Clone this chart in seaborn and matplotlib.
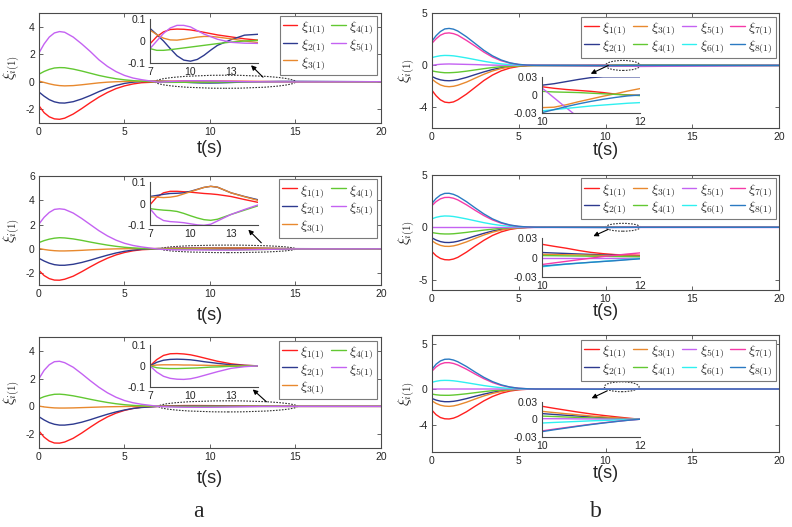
import numpy as np
import pandas as pd
import seaborn as sns
import matplotlib.pyplot as plt
from matplotlib.patches import Ellipse

# time grids (s)
T_A = [0, 0.3, 0.6, 0.9, 1.2, 1.5, 2, 2.5, 3, 3.5, 4, 4.5, 5, 5.5, 6]
T_A_ZOOM = [7, 7.5, 8, 8.5, 9, 9.5, 10, 10.5, 11, 11.5, 12, 13, 14, 15]
T_B = [0, 0.25, 0.5, 0.75, 1, 1.25, 1.5, 2, 2.5, 3, 3.5, 4, 4.5, 5, 5.5, 6]
T_B_ZOOM = [10, 10.25, 10.5, 10.75, 11, 11.25, 11.5, 11.75, 12]
T_END = 20

NAMES_A = [r'$\xi_{1(1)}$', r'$\xi_{2(1)}$', r'$\xi_{3(1)}$', r'$\xi_{4(1)}$', r'$\xi_{5(1)}$']
NAMES_B = NAMES_A + [r'$\xi_{6(1)}$', r'$\xi_{7(1)}$', r'$\xi_{8(1)}$']
COLORS = ['#ff1f1f', '#2e3a8f', '#e8892e', '#62c832', '#c462f2', '#2ff0f0', '#f53aa8', '#2a7ac2']

# ---- column a, top ----
a1_main = [
    [-1.75, -2.25, -2.55, -2.7, -2.73, -2.65, -2.35, -1.95, -1.52, -1.12, -0.78, -0.5, -0.3, -0.16, -0.07],
    [-0.75, -1.05, -1.3, -1.46, -1.54, -1.55, -1.45, -1.25, -1.0, -0.72, -0.47, -0.27, -0.12, -0.03, 0.02],
    [0.05, -0.05, -0.15, -0.23, -0.28, -0.3, -0.28, -0.22, -0.15, -0.08, -0.03, 0.0, 0.02, 0.03, 0.03],
    [0.55, 0.75, 0.9, 1.0, 1.03, 1.02, 0.92, 0.78, 0.62, 0.46, 0.33, 0.22, 0.14, 0.08, 0.04],
    [2.1, 2.75, 3.25, 3.55, 3.65, 3.6, 3.25, 2.75, 2.2, 1.6, 1.12, 0.74, 0.46, 0.27, 0.15],
]
a1_zoom = [
    [-0.013, 0.02, 0.042, 0.053, 0.055, 0.054, 0.051, 0.046, 0.04, 0.034, 0.028, 0.019, 0.01, 0.004],
    [0.058, 0.03, 0.0, -0.035, -0.068, -0.088, -0.093, -0.085, -0.066, -0.042, -0.02, 0.006, 0.027, 0.031],
    [0.05, 0.03, 0.013, 0.005, 0.004, 0.008, 0.013, 0.018, 0.021, 0.021, 0.018, 0.01, 0.0, -0.007],
    [-0.035, -0.043, -0.043, -0.04, -0.036, -0.032, -0.028, -0.024, -0.02, -0.016, -0.012, -0.005, 0.0, 0.003],
    [-0.035, 0.0, 0.035, 0.06, 0.072, 0.072, 0.065, 0.048, 0.032, 0.02, 0.008, -0.006, -0.01, -0.011],
]

# ---- column a, middle ----
a2_main = [
    [-1.78, -2.2, -2.45, -2.57, -2.58, -2.5, -2.25, -1.88, -1.48, -1.1, -0.77, -0.5, -0.3, -0.16, -0.07],
    [-0.78, -1.0, -1.18, -1.3, -1.35, -1.35, -1.27, -1.12, -0.93, -0.72, -0.52, -0.34, -0.2, -0.1, -0.04],
    [0.03, -0.05, -0.11, -0.15, -0.17, -0.17, -0.15, -0.12, -0.08, -0.05, -0.02, 0.0, 0.01, 0.02, 0.02],
    [0.52, 0.68, 0.8, 0.88, 0.92, 0.9, 0.82, 0.7, 0.56, 0.43, 0.31, 0.21, 0.13, 0.08, 0.04],
    [2.05, 2.6, 3.0, 3.25, 3.3, 3.25, 2.95, 2.5, 2.0, 1.5, 1.07, 0.72, 0.46, 0.28, 0.16],
]
a2_zoom = [
    [-0.005, 0.03, 0.05, 0.057, 0.057, 0.055, 0.053, 0.05, 0.047, 0.045, 0.042, 0.033, 0.019, 0.006],
    [0.033, 0.038, 0.043, 0.047, 0.048, 0.05, 0.057, 0.066, 0.075, 0.08, 0.076, 0.05, 0.033, 0.018],
    [0.03, 0.03, 0.028, 0.03, 0.035, 0.045, 0.055, 0.065, 0.075, 0.08, 0.076, 0.05, 0.032, 0.015],
    [-0.023, -0.027, -0.03, -0.032, -0.036, -0.045, -0.056, -0.066, -0.074, -0.077, -0.072, -0.05, -0.03, -0.01],
    [-0.023, -0.06, -0.078, -0.083, -0.085, -0.088, -0.093, -0.098, -0.1, -0.095, -0.08, -0.05, -0.027, -0.006],
]

# ---- column a, bottom ----
a3_main = [
    [-1.78, -2.22, -2.5, -2.64, -2.65, -2.57, -2.3, -1.92, -1.5, -1.1, -0.76, -0.49, -0.29, -0.15, -0.06],
    [-0.75, -0.98, -1.17, -1.29, -1.35, -1.35, -1.28, -1.14, -0.96, -0.76, -0.57, -0.4, -0.26, -0.15, -0.08],
    [0.02, -0.04, -0.08, -0.11, -0.12, -0.12, -0.11, -0.09, -0.07, -0.05, -0.03, -0.02, -0.01, 0.0, 0.0],
    [0.55, 0.7, 0.8, 0.87, 0.88, 0.85, 0.76, 0.64, 0.51, 0.39, 0.28, 0.19, 0.12, 0.07, 0.04],
    [2.0, 2.6, 3.0, 3.22, 3.25, 3.15, 2.82, 2.35, 1.85, 1.38, 0.98, 0.66, 0.42, 0.26, 0.15],
]
a3_zoom = [
    [0.0, 0.03, 0.05, 0.058, 0.059, 0.057, 0.053, 0.046, 0.038, 0.03, 0.022, 0.01, 0.003, 0.0],
    [0.0, 0.017, 0.027, 0.031, 0.032, 0.031, 0.029, 0.025, 0.02, 0.016, 0.012, 0.005, 0.002, 0.0],
    [0.0, 0.004, 0.005, 0.005, 0.005, 0.004, 0.004, 0.003, 0.003, 0.002, 0.002, 0.001, 0.0, 0.0],
    [0.0, -0.009, -0.012, -0.013, -0.013, -0.012, -0.011, -0.01, -0.008, -0.006, -0.005, -0.002, -0.001, 0.0],
    [0.0, -0.03, -0.05, -0.06, -0.064, -0.065, -0.062, -0.055, -0.046, -0.037, -0.028, -0.012, -0.004, 0.0],
]

# ---- column b, top ----
b1_main = [
    [-2.35, -2.9, -3.3, -3.52, -3.57, -3.5, -3.3, -2.75, -2.1, -1.45, -0.92, -0.52, -0.25, -0.1, -0.02, 0.01],
    [-1.05, -1.25, -1.38, -1.45, -1.47, -1.44, -1.37, -1.15, -0.88, -0.62, -0.39, -0.22, -0.1, -0.04, 0.0, 0.01],
    [-1.3, -1.62, -1.87, -2.0, -2.04, -2.0, -1.9, -1.6, -1.22, -0.85, -0.53, -0.3, -0.14, -0.06, -0.02, -0.02],
    [-0.52, -0.6, -0.66, -0.7, -0.7, -0.68, -0.65, -0.55, -0.43, -0.31, -0.2, -0.12, -0.06, -0.03, -0.01, 0.0],
    [0.0, 0.07, 0.11, 0.13, 0.14, 0.13, 0.12, 0.1, 0.08, 0.05, 0.03, 0.02, 0.01, 0.01, 0.01, 0.01],
    [0.75, 0.85, 0.93, 0.96, 0.95, 0.92, 0.86, 0.72, 0.56, 0.4, 0.26, 0.15, 0.08, 0.03, 0.01, 0.0],
    [2.1, 2.55, 2.9, 3.08, 3.12, 3.05, 2.9, 2.4, 1.85, 1.28, 0.8, 0.45, 0.22, 0.09, 0.02, 0.0],
    [2.3, 2.85, 3.25, 3.5, 3.55, 3.48, 3.3, 2.75, 2.1, 1.45, 0.92, 0.52, 0.25, 0.1, 0.03, 0.0],
]
b1_zoom = [
    [0.0136, 0.011, 0.009, 0.0075, 0.006, 0.004, 0.0015, 0.0, -0.0005],
    [0.016, 0.0185, 0.022, 0.0255, 0.0285, 0.0298, 0.0298, 0.0298, 0.0298],
    [-0.0207, -0.02, -0.016, -0.011, -0.0065, -0.002, 0.002, 0.0065, 0.0105],
    [0.006, 0.005, 0.0045, 0.004, 0.003, 0.002, 0.001, 0.0, -0.001],
    [0.012, -0.0045, -0.021, -0.037, -0.05, -0.065, -0.08, -0.09, -0.1],
    [-0.026, -0.024, -0.022, -0.02, -0.018, -0.0165, -0.015, -0.0135, -0.0125],
    [-0.05, -0.048, -0.046, -0.044, -0.042, -0.04, -0.038, -0.036, -0.034],
    [-0.029, -0.024, -0.019, -0.0145, -0.0105, -0.007, -0.004, -0.0015, 0.0],
]

# ---- column b, middle ----
b2_main = [
    [-2.3, -2.72, -2.98, -3.1, -3.12, -3.04, -2.88, -2.38, -1.8, -1.25, -0.78, -0.44, -0.21, -0.08, -0.02, 0.0],
    [-1.0, -1.22, -1.37, -1.45, -1.46, -1.42, -1.34, -1.1, -0.83, -0.58, -0.36, -0.2, -0.1, -0.04, -0.01, 0.0],
    [-1.28, -1.55, -1.73, -1.82, -1.83, -1.78, -1.68, -1.4, -1.06, -0.74, -0.47, -0.27, -0.13, -0.05, -0.01, 0.0],
    [-0.5, -0.57, -0.62, -0.64, -0.64, -0.62, -0.58, -0.49, -0.38, -0.27, -0.18, -0.1, -0.05, -0.02, -0.01, 0.0],
    [0.0, 0.0, 0.0, 0.0, 0.0, 0.0, 0.0, 0.0, 0.0, 0.0, 0.0, 0.0, 0.0, 0.0, 0.0, 0.0],
    [0.8, 0.95, 1.04, 1.08, 1.07, 1.03, 0.96, 0.8, 0.62, 0.44, 0.29, 0.17, 0.09, 0.04, 0.01, 0.0],
    [2.05, 2.45, 2.72, 2.85, 2.86, 2.78, 2.62, 2.15, 1.62, 1.12, 0.7, 0.39, 0.19, 0.08, 0.02, 0.0],
    [2.25, 2.75, 3.08, 3.24, 3.25, 3.15, 2.97, 2.45, 1.85, 1.28, 0.8, 0.45, 0.22, 0.09, 0.03, 0.0],
]
b2_zoom = [
    [0.0207, 0.0175, 0.0145, 0.011, 0.008, 0.006, 0.0045, 0.004, 0.0035],
    [0.0078, 0.007, 0.0063, 0.0055, 0.0048, 0.0041, 0.0034, 0.0027, 0.002],
    [0.005, 0.0046, 0.0043, 0.004, 0.0036, 0.0032, 0.0028, 0.0024, 0.002],
    [0.003, 0.0028, 0.0025, 0.0023, 0.002, 0.0018, 0.0015, 0.0013, 0.001],
    [0.0, 0.0, 0.0, 0.0, 0.0, 0.0, 0.0, 0.0, 0.0],
    [-0.0145, -0.0125, -0.0105, -0.009, -0.0075, -0.006, -0.0045, -0.003, -0.0015],
    [-0.011, -0.0085, -0.006, -0.0035, -0.001, 0.0015, 0.0035, 0.0055, 0.0072],
    [-0.0135, -0.0118, -0.0102, -0.0088, -0.0075, -0.0062, -0.005, -0.0035, -0.002],
]

# ---- column b, bottom ----
b3_main = [
    [-2.33, -2.85, -3.17, -3.31, -3.33, -3.24, -3.05, -2.53, -1.91, -1.32, -0.83, -0.47, -0.23, -0.09, -0.03, 0.0],
    [-1.04, -1.23, -1.35, -1.41, -1.41, -1.37, -1.29, -1.07, -0.81, -0.57, -0.36, -0.2, -0.1, -0.04, -0.01, 0.0],
    [-1.3, -1.6, -1.8, -1.9, -1.93, -1.88, -1.77, -1.47, -1.11, -0.77, -0.49, -0.28, -0.13, -0.05, -0.01, 0.0],
    [-0.56, -0.64, -0.69, -0.7, -0.7, -0.67, -0.63, -0.53, -0.41, -0.29, -0.19, -0.11, -0.06, -0.02, -0.01, 0.0],
    [0.0, 0.0, 0.0, 0.0, 0.0, 0.0, 0.0, 0.0, 0.0, 0.0, 0.0, 0.0, 0.0, 0.0, 0.0, 0.0],
    [0.74, 0.86, 0.94, 0.96, 0.95, 0.91, 0.85, 0.7, 0.54, 0.38, 0.25, 0.14, 0.07, 0.03, 0.01, 0.0],
    [1.95, 2.45, 2.77, 2.92, 2.93, 2.84, 2.67, 2.2, 1.66, 1.15, 0.72, 0.4, 0.2, 0.08, 0.02, 0.0],
    [2.15, 2.75, 3.12, 3.3, 3.32, 3.22, 3.03, 2.5, 1.88, 1.3, 0.82, 0.46, 0.22, 0.09, 0.03, 0.0],
]
b3_zoom = [
    [0.022, 0.0185, 0.0152, 0.012, 0.009, 0.0065, 0.0042, 0.002, 0.0],
    [0.0096, 0.0081, 0.0067, 0.0053, 0.004, 0.0029, 0.0018, 0.0008, 0.0],
    [0.0134, 0.0113, 0.0093, 0.0074, 0.0056, 0.004, 0.0025, 0.0011, 0.0],
    [0.0054, 0.0046, 0.0038, 0.003, 0.0023, 0.0016, 0.001, 0.0005, 0.0],
    [0.001, 0.0009, 0.0008, 0.0006, 0.0005, 0.0004, 0.0002, 0.0001, 0.0],
    [-0.0064, -0.0054, -0.0045, -0.0036, -0.0027, -0.002, -0.0013, -0.0006, 0.0],
    [-0.0198, -0.0168, -0.014, -0.0112, -0.0085, -0.006, -0.0038, -0.0017, 0.0],
    [-0.021, -0.0178, -0.0148, -0.0118, -0.009, -0.0064, -0.004, -0.0018, 0.0],
]

sns.set_theme(style='white')
plt.rcParams.update({
    'font.family': ['Liberation Sans', 'DejaVu Sans'],
    'mathtext.fontset': 'cm',
    'axes.unicode_minus': False,
    'axes.edgecolor': '#4a4a4a',
    'axes.linewidth': 0.8,
    'xtick.direction': 'in',
    'ytick.direction': 'in',
    'xtick.color': '#4a4a4a',
    'ytick.color': '#4a4a4a',
    'xtick.labelcolor': '#262626',
    'ytick.labelcolor': '#262626',
    'xtick.major.size': 3,
    'ytick.major.size': 3,
    'xtick.major.width': 0.6,
    'ytick.major.width': 0.6,
    'xtick.major.pad': 3,
    'ytick.major.pad': 3,
    'xtick.labelsize': 7.5,
    'ytick.labelsize': 7.5,
})


def long_table(names, t_parts, v_parts):
    rows = []
    for i, name in enumerate(names):
        t = [tt for part in t_parts for tt in part]
        v = [vv for part in v_parts for vv in part[i]]
        rows.append(pd.DataFrame({'t': t, 'v': v, 'name': name}))
    return pd.concat(rows, ignore_index=True)


def panel(fig, rect, inset_rect, names, main, zoom, t_main, t_zoom,
          ylim, yticks, zlim, zticks, zxticks, zfmt, ell, arrow, leg, xlab_y, ylab_x):
    cols = COLORS[:len(names)]
    ax = fig.add_axes(rect)
    end = [[0.0] for _ in names]
    df = long_table(names, [t_main, t_zoom, [T_END]], [main, zoom, end])
    sns.lineplot(data=df, x='t', y='v', hue='name', hue_order=names, palette=cols,
                 estimator=None, sort=False, linewidth=1.0, ax=ax)
    ax.set_xlim(0, 20)
    ax.set_ylim(*ylim)
    ax.set_xticks([0, 5, 10, 15, 20])
    ax.set_yticks(yticks)
    ax.tick_params(top=True, right=True, bottom=True, left=True)
    ax.set_xlabel('t(s)', fontsize=13, color='#262626')
    ax.xaxis.set_label_coords(0.5, xlab_y)
    ax.set_ylabel(r'$\xi_{i(1)}$', fontsize=11, color='#262626')
    ax.yaxis.set_label_coords(ylab_x, 0.5)

    ax.add_patch(Ellipse(ell[0], ell[1], ell[2], fill=False, edgecolor='#333333',
                         linewidth=0.8, linestyle=(0, (1.5, 1.2))))
    ax.annotate('', xy=arrow[1], xytext=arrow[0],
                arrowprops=dict(arrowstyle='-|>', color='black', lw=0.8,
                                mutation_scale=7, shrinkA=0, shrinkB=0))

    sns.move_legend(ax, 'upper right', bbox_to_anchor=leg[0], ncol=leg[1], title=None,
                    frameon=True, fancybox=False, framealpha=1, edgecolor='#7a7a7a',
                    fontsize=10, handlelength=1.05, handletextpad=0.25,
                    columnspacing=0.45, labelspacing=0.02, borderpad=0.22,
                    borderaxespad=0)
    ax.get_legend().get_frame().set_linewidth(0.8)

    axi = fig.add_axes(inset_rect)
    dfz = long_table(names, [t_zoom], [zoom])
    sns.lineplot(data=dfz, x='t', y='v', hue='name', hue_order=names, palette=cols,
                 estimator=None, sort=False, linewidth=1.0, ax=axi, legend=False)
    axi.set_xlim(t_zoom[0], t_zoom[-1])
    axi.set_ylim(*zlim)
    axi.set_xticks(zxticks)
    axi.set_yticks(zticks)
    axi.set_yticklabels([zfmt(v) for v in zticks])
    axi.set_xlabel('')
    axi.set_ylabel('')
    axi.spines['top'].set_visible(False)
    axi.spines['right'].set_visible(False)
    axi.tick_params(top=False, right=False)
    return ax


fig = plt.figure(figsize=(7.92, 5.27), dpi=100)

fa = lambda v: '0' if v == 0 else f'{v:g}'
fb = lambda v: '0' if v == 0 else f'{v:.2f}'

panel(fig, [0.04924, 0.76660, 0.43182, 0.20873], [0.18939, 0.88102, 0.13636, 0.08235],
      NAMES_A, a1_main, a1_zoom, T_A, T_A_ZOOM, (-3, 5), [-2, 0, 2, 4],
      (-0.1, 0.1), [-0.1, 0, 0.1], [7, 10, 13], fa,
      ((10.9, 0), 8.2, 0.95), ((13.1, 0.33), (12.4, 1.2)), ((0.988, 0.973), 2), -0.155, -0.046)
panel(fig, [0.04924, 0.45863, 0.43182, 0.20740], [0.18939, 0.57249, 0.13636, 0.08216],
      NAMES_A, a2_main, a2_zoom, T_A, T_A_ZOOM, (-3, 6), [-2, 0, 2, 4, 6],
      (-0.1, 0.1), [-0.1, 0, 0.1], [7, 10, 13], fa,
      ((11.05, 0), 7.9, 0.62), ((13.0, 0.5), (12.24, 1.58)), ((0.987, 0.97), 2), -0.196, -0.046)
panel(fig, [0.04924, 0.14991, 0.43182, 0.21063], [0.18939, 0.26622, 0.13636, 0.07913],
      NAMES_A, a3_main, a3_zoom, T_A, T_A_ZOOM, (-3, 5), [-2, 0, 2, 4],
      (-0.1, 0.1), [-0.1, 0, 0.1], [7, 10, 13], fa,
      ((11.05, 0), 8.1, 0.8), ((13.3, 0.33), (12.5, 1.22)), ((0.987, 0.967), 2), -0.2, -0.046)

panel(fig, [0.54508, 0.75712, 0.43889, 0.21765], [0.68396, 0.78501, 0.12412, 0.06945],
      NAMES_B, b1_main, b1_zoom, T_B, T_B_ZOOM, (-6, 5), [-4, 0, 5],
      (-0.03, 0.03), [-0.03, 0, 0.03], [10, 12], fb,
      ((11, 0), 2.0, 0.96), ((10.16, 0.0), (9.15, -0.8)), ((0.99, 0.97), 4), -0.119, -0.040)
panel(fig, [0.54508, 0.44972, 0.43889, 0.21822], [0.68396, 0.47495, 0.12412, 0.07287],
      NAMES_B, b2_main, b2_zoom, T_B, T_B_ZOOM, (-6, 5), [-5, 0, 5],
      (-0.03, 0.03), [-0.03, 0, 0.03], [10, 12], fb,
      ((11, 0), 2.0, 0.75), ((10.16, -0.2), (9.3, -0.85)), ((0.99, 0.971), 4), -0.115, -0.040)
panel(fig, [0.54508, 0.14231, 0.43889, 0.22201], [0.68396, 0.17078, 0.12412, 0.06736],
      NAMES_B, b3_main, b3_zoom, T_B, T_B_ZOOM, (-7, 6), [-4, 0, 5],
      (-0.03, 0.03), [-0.03, 0, 0.03], [10, 12], fb,
      ((10.93, 0.25), 2.0, 1.1), ((10.1, -0.2), (9.2, -1.03)), ((0.99, 0.96), 4), -0.115, -0.040)

fig.text(0.25, 0.0285, 'a', fontsize=17, family='Liberation Serif', ha='center', va='center')
fig.text(0.7525, 0.0285, 'b', fontsize=17, family='Liberation Serif', ha='center', va='center')

fig.savefig('out.png', dpi=100)
